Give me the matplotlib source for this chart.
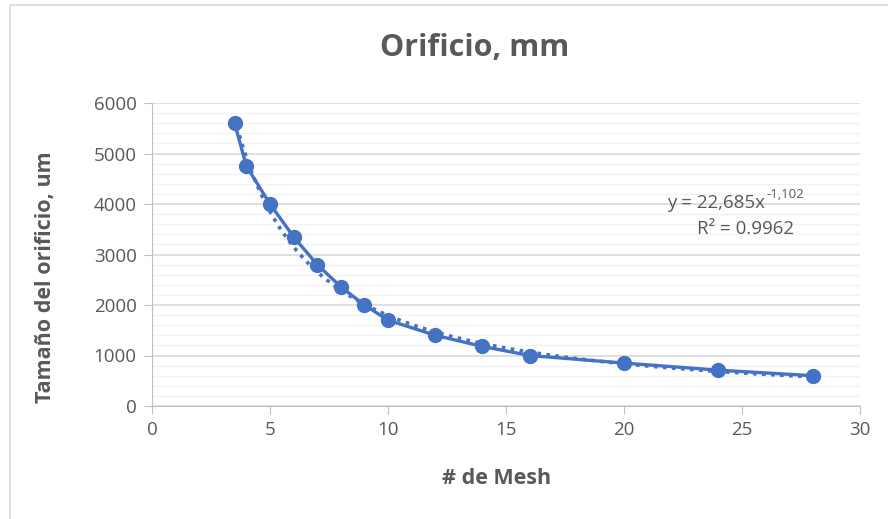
import matplotlib
matplotlib.use("Agg")
import matplotlib.pyplot as plt
import numpy as np
from matplotlib.patches import Rectangle

mesh = [3.5, 4, 5, 6, 7, 8, 9, 10, 12, 14, 16, 20, 24, 28]
size_um = [5600, 4750, 4000, 3350, 2800, 2360, 2000, 1700, 1400, 1180, 1000, 850, 710, 600]
eq_text = "y = 22,685x"
eq_exp = "-1,102"
r2_text = "R² = 0.9962"

blue = "#4472C4"
gray = "#595959"
plt.rcParams['font.family'] = ['Open Sans', 'DejaVu Sans']

fig = plt.figure(figsize=(8.88, 5.19), dpi=100)
fig.patches.append(Rectangle((10/888, -0.1), 1.2, 1.1 - 5/519, transform=fig.transFigure,
                             fill=False, edgecolor="#D9D9D9", linewidth=1.2))
ax = fig.add_axes([152/888, 1-406/519, (860-152)/888, (406-103)/519])

x = np.array(mesh, float); y = np.array(size_um, float)
b, loga = np.polyfit(np.log(x), np.log(y), 1)
xt = np.linspace(x.min(), x.max(), 200)
ax.plot(xt, np.exp(loga) * xt**b, linestyle=(0, (1, 1.5)), color=blue, linewidth=2.6, zorder=3)
ax.plot(mesh, size_um, color=blue, linewidth=2.4, marker='o', markersize=10, zorder=4)

ax.set_xlim(0, 30); ax.set_ylim(0, 6000)
ax.set_xticks(np.arange(0, 31, 5)); ax.set_yticks(np.arange(0, 6001, 1000))
ax.set_yticks(np.arange(0, 6001, 200), minor=True)
ax.grid(axis='y', which='major', color="#D9D9D9", linewidth=1.2)
ax.grid(axis='y', which='minor', color="#F2F2F2", linewidth=1.0)
ax.tick_params(axis='y', which='minor', length=0)
ax.set_axisbelow(True)
for s in ['top', 'right']:
    ax.spines[s].set_visible(False)
for s in ['left', 'bottom']:
    ax.spines[s].set_color("#BFBFBF")
ax.tick_params(axis='both', which='major', colors="#BFBFBF", labelcolor=gray, labelsize=13.5,
               length=6, pad=5)

fig.text(475/888, 1-48/519, "Orificio, mm", ha='center', va='center', fontsize=22, fontweight='bold', color=gray)
fig.text(497/888, 1-478/519, "# de Mesh", ha='center', va='center', fontsize=15.5, fontweight='bold', color=gray)
fig.text(46/888, 1-277/519, "Tamaño del orificio, um", ha='center', va='center', rotation=90,
         fontsize=15.5, fontweight='bold', color=gray)
fig.text(765/888, 1-203/519, eq_text, ha='right', va='center', fontsize=13.5, color=gray)
fig.text(766/888, 1-195/519, eq_exp, ha='left', va='center', fontsize=9.5, color=gray)
fig.text(745/888, 1-229/519, r2_text, ha='center', va='center', fontsize=13.5, color=gray)

fig.savefig("out.png", dpi=100)
